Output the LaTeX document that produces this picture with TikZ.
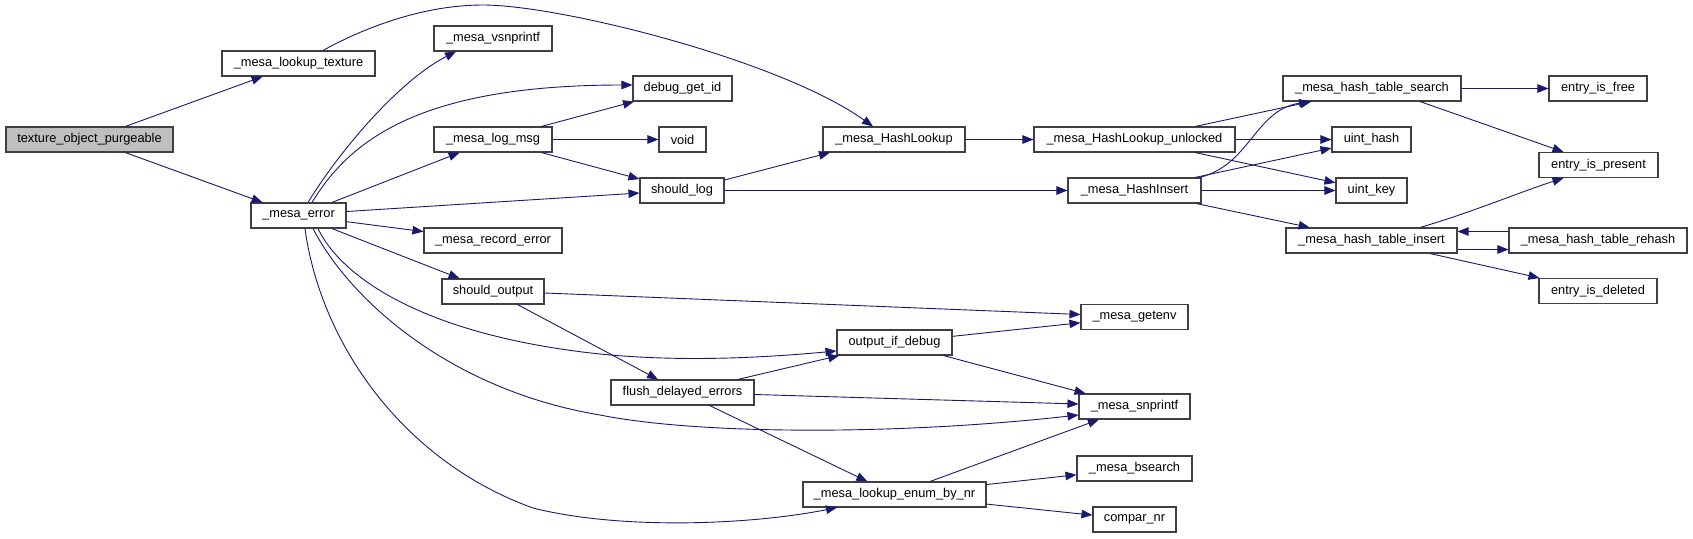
\documentclass[tikz,border=0pt]{standalone}
\usepackage{fontspec}
\setmainfont{Liberation Sans}
\usetikzlibrary{arrows.meta,calc}
\definecolor{edgeblue}{HTML}{191970}
\definecolor{boxline}{HTML}{404040}
\definecolor{rootfill}{HTML}{BFBFBF}
\tikzset{
  fn/.style={draw=boxline, line width=1.1pt, rectangle, inner sep=0pt, minimum height=25pt,
    font=\fontsize{12.8}{14}\selectfont, fill=white},
  rootfn/.style={fn, fill=rootfill},
  call/.style={draw=edgeblue, line width=0.9pt, -{Triangle[length=11pt,width=8.5pt]}, edgeblue}
}
\begin{document}
\begin{tikzpicture}[x=1pt,y=-1pt]
\useasboundingbox (0,0) rectangle (1693,538);
% nodes
\node[rootfn, minimum width=167pt] (tex) at (89.5,139.5) {texture\_object\_purgeable};
\node[fn, minimum width=153pt] (lt) at (298.5,63.5) {\_mesa\_lookup\_texture};
\node[fn, minimum width=95pt] (err) at (298.5,215.5) {\_mesa\_error};
\node[fn, minimum width=118pt] (vsn) at (493,38.5) {\_mesa\_vsnprintf};
\node[fn, minimum width=99pt] (dbg) at (682.5,88.5) {debug\_get\_id};
\node[fn, minimum width=118pt] (log) at (493,139.5) {\_mesa\_log\_msg};
\node[fn, minimum width=47pt] (void) at (682.5,139.5) {void};
\node[fn, minimum width=84pt] (sl) at (682,190.5) {should\_log};
\node[fn, minimum width=138pt] (rec) at (493,240.5) {\_mesa\_record\_error};
\node[fn, minimum width=102pt] (so) at (493,291.5) {should\_output};
\node[fn, minimum width=142pt] (hl) at (894,139.5) {\_mesa\_HashLookup};
\node[fn, minimum width=201pt] (hlu) at (1134.5,139.5) {\_mesa\_HashLookup\_unlocked};
\node[fn, minimum width=133pt] (hi) at (1134.5,190.5) {\_mesa\_HashInsert};
\node[fn, minimum width=178pt] (srch) at (1372,88.5) {\_mesa\_hash\_table\_search};
\node[fn, minimum width=98pt] (free) at (1598,88.5) {entry\_is\_free};
\node[fn, minimum width=79pt] (uh) at (1371.5,139.5) {uint\_hash};
\node[fn, minimum width=71pt] (uk) at (1371.5,190.5) {uint\_key};
\node[fn, minimum width=119pt] (pres) at (1598.5,165) {entry\_is\_present};
\node[fn, minimum width=171pt] (ins) at (1371.5,240.5) {\_mesa\_hash\_table\_insert};
\node[fn, minimum width=178pt] (reh) at (1598,240.5) {\_mesa\_hash\_table\_rehash};
\node[fn, minimum width=118pt] (del) at (1598,291) {entry\_is\_deleted};
\node[fn, minimum width=115pt] (oid) at (894.5,342.5) {output\_if\_debug};
\node[fn, minimum width=143pt] (fl) at (682.5,392.5) {flush\_delayed\_errors};
\node[fn, minimum width=183pt] (en) at (894.5,494.5) {\_mesa\_lookup\_enum\_by\_nr};
\node[fn, minimum width=107pt] (env) at (1134.5,317) {\_mesa\_getenv};
\node[fn, minimum width=111pt] (snp) at (1134.5,406.5) {\_mesa\_snprintf};
\node[fn, minimum width=115pt] (bs) at (1134.5,468.5) {\_mesa\_bsearch};
\node[fn, minimum width=83pt] (cmp) at (1134.5,519.5) {compar\_nr};
% edges
\draw[call] (tex) -- (lt);
\draw[call] (tex) -- (err);
\draw[call] ($(lt.north)+(24.5,0)$) .. controls (360,30) and (420,5) .. (483,5)
  .. controls (560,5) and (780,60) .. ($(hl.north)+(-21,0)$);
\draw[call] ($(err.north)+(9.5,0)$) .. controls (340,150) and (400,80) .. ($(vsn.south)+(-37,0)$);
\draw[call] ($(err.north)+(13.5,0)$) .. controls (350,140) and (420,85) .. ($(dbg.west)+(0,-3.5)$);
\draw[call] (err) -- (log);
\draw[call] ($(err.east)+(0,-4)$) -- ($(sl.west)+(0,2.5)$);
\draw[call] (err) -- (rec);
\draw[call] (err) -- (so);
\draw[call] ($(err.south)+(19.5,0)$) .. controls (340,275) and (420,335) .. (600,354)
  .. controls (680,362) and (760,358) .. ($(oid.west)+(0,8.5)$);
\draw[call] ($(err.south)+(14.5,0)$) .. controls (350,300) and (450,390) .. (600,415)
  .. controls (700,435) and (900,435) .. ($(snp.west)+(0,8.5)$);
\draw[call] ($(err.south)+(6.5,0)$) .. controls (320,340) and (400,460) .. (533,508)
  .. controls (620,530) and (750,525) .. ($(en.south)+(-57.5,0)$);
\draw[call] (log) -- (dbg);
\draw[call] (log) -- (void);
\draw[call] (log) -- (sl);
\draw[call] ($(sl.east)+(0,-10.5)$) -- ($(hl.south)+(-64,0)$);
\draw[call] (sl) -- (hi);
\draw[call] (hl) -- (hlu);
\draw[call] (hlu) -- (srch);
\draw[call] (hlu) -- (uh);
\draw[call] (hlu) -- (uk);
\draw[call] ($(hi.north east)+(-2,0)$) .. controls (1250,165) and (1255,110) .. ($(srch.south)+(-62,0)$);
\draw[call] (hi) -- (uh);
\draw[call] (hi) -- (uk);
\draw[call] (hi) -- (ins);
\draw[call] (srch) -- (free);
\draw[call] ($(srch.south)+(48,0)$) -- ($(pres.north)+(-35,0)$);
\draw[call] ($(ins.north)+(48.5,0)$) .. controls (1470,213) and (1520,192) .. ($(pres.south)+(-35,0)$);
\draw[call] ($(ins.east)+(0,9)$) -- ($(reh.west)+(0,9)$);
\draw[call] ($(reh.west)+(0,-9)$) -- ($(ins.east)+(0,-9)$);
\draw[call] (ins) -- (del);
\draw[call] ($(so.east)+(0,1.5)$) -- ($(env.west)+(0,-2.5)$);
\draw[call] (so) -- (fl);
\draw[call] (fl) -- (oid);
\draw[call] ($(fl.east)+(0,2)$) -- ($(snp.west)+(0,-2.5)$);
\draw[call] (fl) -- (en);
\draw[call] (oid) -- (env);
\draw[call] (oid) -- (snp);
\draw[call] (en) -- (snp);
\draw[call] (en) -- (bs);
\draw[call] (en) -- (cmp);
\end{tikzpicture}
\end{document}
